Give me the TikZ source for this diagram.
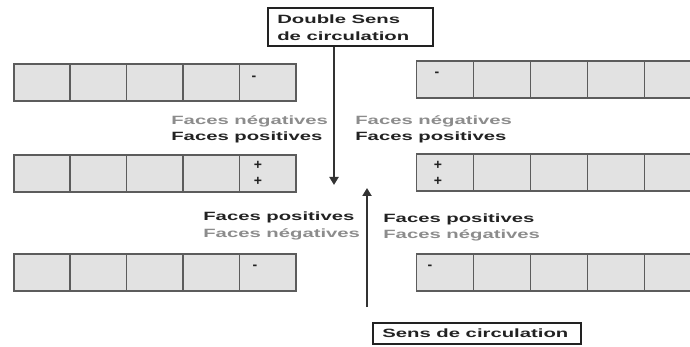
\documentclass[tikz,border=0pt]{standalone}
\usepackage{fontspec}
\setmainfont{Liberation Sans}
\usetikzlibrary{arrows.meta}
\definecolor{cellfill}{HTML}{E2E2E2}
\definecolor{cellline}{HTML}{5C5C5C}
\definecolor{negtxt}{HTML}{8C8C8C}
\definecolor{postxt}{HTML}{222222}
\definecolor{arrowc}{HTML}{333333}
\begin{document}
\begin{tikzpicture}[x=1pt,y=-1pt,
  cell/.style={draw=cellline, line width=1.6pt, fill=cellfill,
    minimum width=#1, minimum height=37pt, inner sep=0pt, anchor=north west},
  cell/.default=56.4pt,
  lbl/.style={font=\bfseries\fontsize{12}{16}\selectfont, xscale=1.69,
    inner sep=0pt, anchor=base west},
  neglbl/.style={lbl, text=negtxt},
  poslbl/.style={lbl, text=postxt},
  sign/.style={font=\bfseries\fontsize{14}{14}\selectfont, text=postxt, inner sep=0pt},
  titlebox/.style={draw=postxt, line width=1.6pt, fill=white, inner sep=0pt,
    anchor=north west},
  flow/.style={draw=arrowc, line width=2.4pt, -{Triangle[length=8pt,width=9pt]}}
]
\useasboundingbox (0,0) rectangle (690,347);
\clip (0,0) rectangle (690,347);

% left column of panels
\foreach \r/\y in {1/63,2/154,3/253}{
  \foreach \c in {1,...,5}{
    \node[cell] (L\r c\c) at ({13+(\c-1)*56.4},\y) {};
  }
}
% right column of panels (running off the page)
\foreach \r/\y in {1/60,2/153,3/253}{
  \foreach \c in {1,...,5}{
    \node[cell=57pt] (R\r c\c) at ({415.5+(\c-1)*57},\y) {};
  }
}

% face signs
\node[sign] (sL1) at (254,78) {-};
\node[sign] (sL2a) at (258,165) {+};
\node[sign] (sL2b) at (258,181) {+};
\node[sign] (sL3) at (255,267) {-};
\node[sign] (sR1) at (437,74) {-};
\node[sign] (sR2a) at (438,165) {+};
\node[sign] (sR2b) at (438,181) {+};
\node[sign] (sR3) at (430,267) {-};

% face labels
\node[neglbl] (tLn) at (171,125) {Faces négatives};
\node[poslbl] (tLp) at (171,141) {Faces positives};
\node[neglbl] (tRn) at (355,125) {Faces négatives};
\node[poslbl] (tRp) at (355,141) {Faces positives};
\node[poslbl] (bLp) at (203,221) {Faces positives};
\node[neglbl] (bLn) at (203,237) {Faces négatives};
\node[poslbl] (bRp) at (383,223) {Faces positives};
\node[neglbl] (bRn) at (383,239) {Faces négatives};

% direction boxes
\node[titlebox, minimum width=165pt, minimum height=38pt] (dbl) at (267,7) {};
\node[poslbl] (dbl1) at (277,24) {Double Sens};
\node[poslbl] (dbl2) at (277,41) {de circulation};
\node[titlebox, minimum width=208pt, minimum height=21pt] (sens) at (372,322) {};
\node[poslbl] (sens1) at (382,337) {Sens de circulation};

% traffic arrows
\coordinate (dtip) at (334,185);
\coordinate (utail) at (367,307);
\coordinate (utip) at (367,188);
\draw[flow] (dbl.south -| dtip) -- (dtip);
\draw[flow] (utail) -- (utip);
\end{tikzpicture}
\end{document}
